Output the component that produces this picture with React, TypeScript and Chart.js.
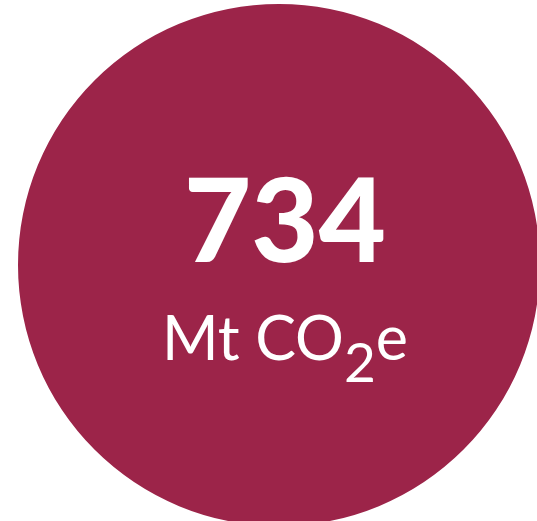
import React, { useEffect, useRef } from "react";
import { Chart, registerables } from "chart.js";

Chart.register(...registerables);

const categories: string[] = ["Emissions"];
const values: number[] = [734];
const colors: string[] = ["#9C2449"];
const unitMain: string = "Mt CO";
const unitSub: string = "2";
const unitTail: string = "e";
const FONT = "Lato, 'Open Sans', sans-serif";

const centerText = {
  id: "centerText",
  afterDraw(chart: any) {
    const ctx = chart.ctx as CanvasRenderingContext2D;
    const meta = chart.getDatasetMeta(0);
    const arc = meta.data[0];
    if (!arc) return;
    const cx = arc.x + 6;
    const cy = arc.y;
    ctx.save();
    ctx.fillStyle = "#ffffff";
    ctx.textBaseline = "alphabetic";
    ctx.textAlign = "center";
    ctx.font = `900 116px ${FONT}`;
    ctx.fillText(String(values[0]), cx, cy - 3);

    const mainFont = `normal 61px ${FONT}`;
    const subFont = `normal 55px ${FONT}`;
    ctx.font = mainFont;
    const w1 = ctx.measureText(unitMain).width;
    const w3 = ctx.measureText(unitTail).width;
    ctx.font = subFont;
    const w2 = ctx.measureText(unitSub).width;
    const total = w1 + w2 + w3;
    let x = cx - total / 2;
    const base = cy + 95;
    ctx.textAlign = "left";
    ctx.font = mainFont;
    ctx.fillText(unitMain, x, base);
    x += w1;
    ctx.font = subFont;
    ctx.fillText(unitSub, x, base + 22);
    x += w2;
    ctx.font = mainFont;
    ctx.fillText(unitTail, x, base);
    ctx.restore();
  },
};

export default function App() {
  const ref = useRef<HTMLCanvasElement | null>(null);
  useEffect(() => {
    if (!ref.current) return;
    const chart = new Chart(ref.current, {
      type: "pie",
      data: {
        labels: categories,
        datasets: [
          {
            data: values,
            backgroundColor: colors,
            borderWidth: 0,
            hoverOffset: 0,
          },
        ],
      },
      options: {
        responsive: false,
        animation: false,
        radius: 261,
        layout: { padding: { left: 0, top: 0, right: 2, bottom: 0 } },
        plugins: {
          legend: { display: false },
          tooltip: { enabled: false },
        },
      } as any,
      plugins: [centerText],
    });
    return () => chart.destroy();
  }, []);
  return (
    <div
      style={{
        position: "absolute",
        left: 0,
        top: 0,
        width: 537,
        height: 521,
        overflow: "hidden",
        background: "#ffffff",
      }}
    >
      <canvas ref={ref} width={560} height={530} style={{ width: 560, height: 530, display: "block" }} />
    </div>
  );
}
